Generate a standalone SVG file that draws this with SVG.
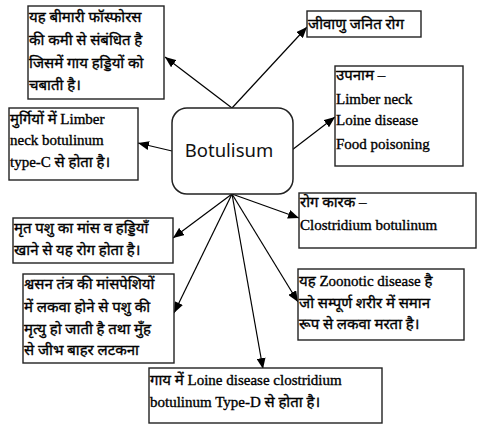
<svg xmlns="http://www.w3.org/2000/svg" width="487" height="429" viewBox="0 0 487 429">
<defs>
<marker id="ah" viewBox="0 0 11 9" refX="11" refY="4.5" markerWidth="11" markerHeight="9" markerUnits="userSpaceOnUse" orient="auto">
<path d="M0,0 L11,4.5 L0,9 Z" fill="#000"/>
</marker>
<style>
.box{fill:#fff;stroke:#222;stroke-width:1.4}
.t{font-family:"Liberation Serif","Noto Sans Devanagari","Noto Serif Devanagari","Lohit Devanagari",serif;font-size:15px;fill:#000;stroke:#000;stroke-width:0.35}
.c line{stroke:#000;stroke-width:1.2;marker-end:url(#ah)}
</style>
</defs>
<rect width="487" height="429" fill="#fff"/>
<g class="c" id="connectors">
<line x1="232" y1="108" x2="165" y2="57"/>
<line x1="232" y1="108" x2="307" y2="27"/>
<line x1="292" y1="150" x2="335" y2="117"/>
<line x1="172" y1="151" x2="138" y2="143"/>
<line x1="232" y1="194" x2="173" y2="238"/>
<line x1="232" y1="194" x2="299" y2="218"/>
<line x1="232" y1="194" x2="298" y2="302"/>
<line x1="232" y1="194" x2="174" y2="313"/>
<line x1="232" y1="194" x2="263" y2="369"/>
</g>
<g id="center">
<rect x="172" y="108" width="121" height="86" rx="15" ry="15" fill="#fff" stroke="#222" stroke-width="1.5"/>
<text x="229" y="157" text-anchor="middle" font-family="'Noto Sans','Open Sans',sans-serif" font-size="18.5" fill="#111">Botulisum</text>
</g>
<g id="n1">
<rect class="box" x="28" y="6" width="136" height="93"/>
<text class="t"><tspan x="29" y="22">यह बीमारी फॉस्फोरस</tspan><tspan x="29" y="45">की कमी से संबंधित है</tspan><tspan x="29" y="68">जिसमें गाय हड्डियों को</tspan><tspan x="29" y="90">चबाती है।</tspan></text>
</g>
<g id="n2">
<rect class="box" x="307" y="11" width="114" height="26"/>
<text class="t" x="308" y="29">जीवाणु जनित रोग</text>
</g>
<g id="n3">
<rect class="box" x="335" y="66" width="128" height="100"/>
<text class="t"><tspan x="336" y="80">उपनाम –</tspan><tspan x="336" y="104">Limber neck</tspan><tspan x="336" y="125">Loine disease</tspan><tspan x="336" y="149">Food poisoning</tspan></text>
</g>
<g id="n4">
<rect class="box" x="9" y="108" width="129" height="72"/>
<text class="t"><tspan x="10" y="124">मुर्गियों में Limber</tspan><tspan x="10" y="145">neck botulinum</tspan><tspan x="10" y="167">type-C से होता है।</tspan></text>
</g>
<g id="n5">
<rect class="box" x="13" y="218" width="160" height="45"/>
<text class="t"><tspan x="14" y="233">मृत पशु का मांस व हड्डियाँ</tspan><tspan x="14" y="255">खाने से यह रोग होता है।</tspan></text>
</g>
<g id="n6">
<rect class="box" x="299" y="193" width="177" height="55"/>
<text class="t"><tspan x="300" y="207">रोग कारक –</tspan><tspan x="300" y="230">Clostridium botulinum</tspan></text>
</g>
<g id="n7">
<rect class="box" x="298" y="269" width="166" height="71"/>
<text class="t"><tspan x="299" y="286">यह Zoonotic disease है</tspan><tspan x="299" y="308">जो सम्पूर्ण शरीर में समान</tspan><tspan x="299" y="329">रूप से लकवा मरता है।</tspan></text>
</g>
<g id="n8">
<rect class="box" x="23" y="274" width="151" height="89"/>
<text class="t"><tspan x="24" y="289">श्वसन तंत्र की मांसपेशियों</tspan><tspan x="24" y="312">में लकवा होने से पशु की</tspan><tspan x="24" y="334">मृत्यु हो जाती है तथा मुँह</tspan><tspan x="24" y="355">से जीभ बाहर लटकना</tspan></text>
</g>
<g id="n9">
<rect class="box" x="149" y="368" width="233" height="55"/>
<text class="t"><tspan x="150" y="385">गाय में Loine disease clostridium</tspan><tspan x="150" y="407">botulinum Type-D से होता है।</tspan></text>
</g>
</svg>
